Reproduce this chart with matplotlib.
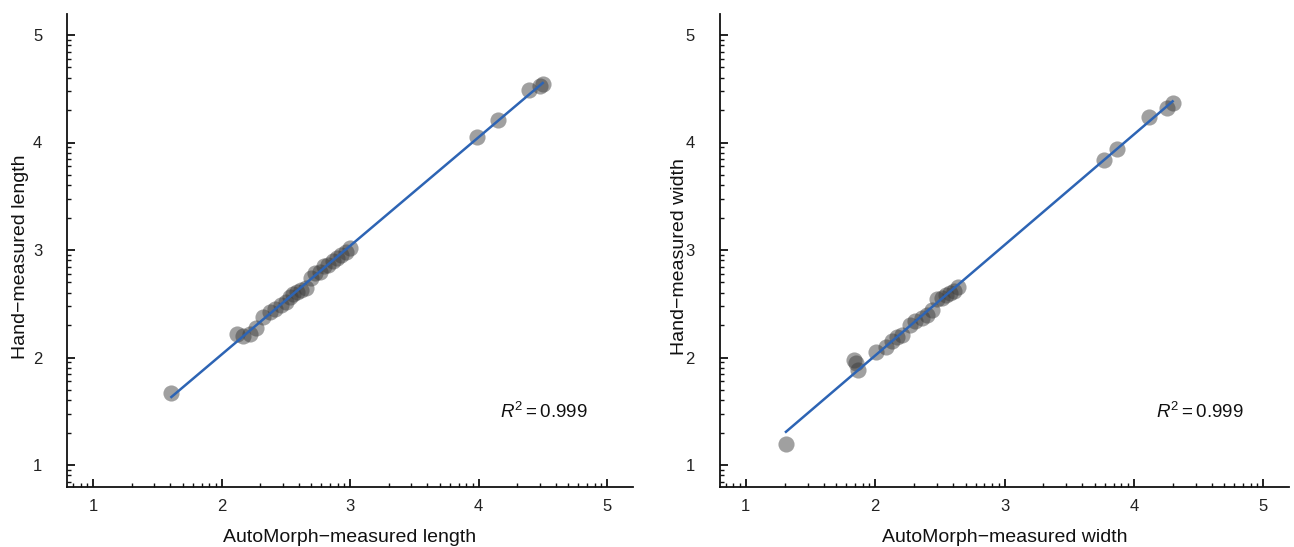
import numpy as np
import matplotlib
matplotlib.use("Agg")
import matplotlib.pyplot as plt
from matplotlib.ticker import FixedLocator

plt.rcParams['font.family'] = ['Liberation Sans', 'DejaVu Sans']
plt.rcParams['mathtext.fontset'] = 'custom'
plt.rcParams['mathtext.rm'] = 'Liberation Sans'
plt.rcParams['mathtext.it'] = 'Liberation Sans:italic'

# ---- data ----
len_auto = [1.61, 2.12, 2.17, 2.22, 2.27, 2.32, 2.38, 2.42, 2.46, 2.50, 2.53, 2.56,
            2.59, 2.62, 2.66, 2.70, 2.73, 2.77, 2.80, 2.83, 2.87, 2.90, 2.93, 2.97,
            3.00, 3.99, 4.15, 4.39, 4.48, 4.50]
len_hand = [1.67, 2.22, 2.20, 2.22, 2.27, 2.38, 2.42, 2.45, 2.49, 2.52, 2.56, 2.59,
            2.61, 2.63, 2.65, 2.74, 2.79, 2.80, 2.85, 2.86, 2.90, 2.93, 2.95, 2.98,
            3.02, 4.05, 4.21, 4.49, 4.53, 4.54]

wid_auto = [1.31, 1.84, 1.85, 1.87, 2.01, 2.08, 2.13, 2.17, 2.21, 2.27, 2.31, 2.36,
            2.40, 2.44, 2.48, 2.52, 2.55, 2.58, 2.61, 2.64, 3.77, 3.87, 4.12, 4.26, 4.30]
wid_hand = [1.20, 1.98, 1.95, 1.88, 2.05, 2.10, 2.15, 2.19, 2.21, 2.30, 2.34, 2.37,
            2.40, 2.44, 2.54, 2.55, 2.58, 2.60, 2.62, 2.66, 3.84, 3.94, 4.24, 4.32, 4.37]

r2_labels = ["0.999", "0.999"]
x_labels = ["AutoMorph\u2212measured length", "AutoMorph\u2212measured width"]
y_labels = ["Hand\u2212measured length", "Hand\u2212measured width"]
major_ticks = [1, 2, 3, 4, 5]

W, H = 1294, 547
fig = plt.figure(figsize=(W / 100, H / 100), dpi=100)

ax_boxes = [
    (67.3 / W, 1 - 486.5 / H, (632.7 - 67.3) / W, (486.5 - 13.5) / H),
    (720.0 / W, 1 - 486.5 / H, (1289.0 - 720.0) / W, (486.5 - 13.5) / H),
]
ylab_x = [21, 679]
xlab_y = 537

minor = [k + np.log10(m) for k in range(0, 6) for m in range(2, 10)]
minor = [v for v in minor if 0.8 <= v <= 5.2]

datasets = [(len_auto, len_hand), (wid_auto, wid_hand)]
for i, (xs, ys) in enumerate(datasets):
    ax = fig.add_axes(ax_boxes[i])
    xs = np.array(xs)
    ys = np.array(ys)
    ax.scatter(xs, ys, s=135, color='#3a3a3a', alpha=0.48, linewidths=0, zorder=2)
    b, a = np.polyfit(xs, ys, 1)
    xl = np.array([xs.min(), xs.max()])
    ax.plot(xl, a + b * xl, color='#2d64b4', lw=1.8, zorder=3)

    ax.set_xlim(0.8, 5.2)
    ax.set_ylim(0.8, 5.2)
    for s in ['top', 'right']:
        ax.spines[s].set_visible(False)
    for s in ['left', 'bottom']:
        ax.spines[s].set_linewidth(1.3)
        ax.spines[s].set_color('#111111')
    ax.xaxis.set_major_locator(FixedLocator(major_ticks))
    ax.yaxis.set_major_locator(FixedLocator(major_ticks))
    ax.xaxis.set_minor_locator(FixedLocator(minor))
    ax.yaxis.set_minor_locator(FixedLocator(minor))
    ax.set_xticklabels([str(t) for t in major_ticks])
    ax.set_yticklabels([str(t) for t in major_ticks])
    ax.tick_params(which='major', direction='in', length=6, width=1.3,
                   labelsize=12, colors='#111111')
    ax.tick_params(which='minor', direction='in', length=3, width=1.0, colors='#111111')
    ax.tick_params(axis='x', which='major', labelcolor='#222222', pad=9)
    ax.tick_params(axis='y', which='major', labelcolor='#222222', pad=18)

    ax.text(4.17, 1.49, r'$R^2 = $' + r2_labels[i], fontsize=13.5,
            ha='left', va='center', color='#111111')

    fig.text((ax_boxes[i][0] + ax_boxes[i][2] / 2), 1 - xlab_y / H, x_labels[i],
             fontsize=14, ha='center', va='center', color='#111111')
    fig.text(ylab_x[i] / W, 1 - 257 / H, y_labels[i], fontsize=14,
             rotation=90, ha='center', va='center', color='#111111')

fig.savefig('out.png', dpi=100)
